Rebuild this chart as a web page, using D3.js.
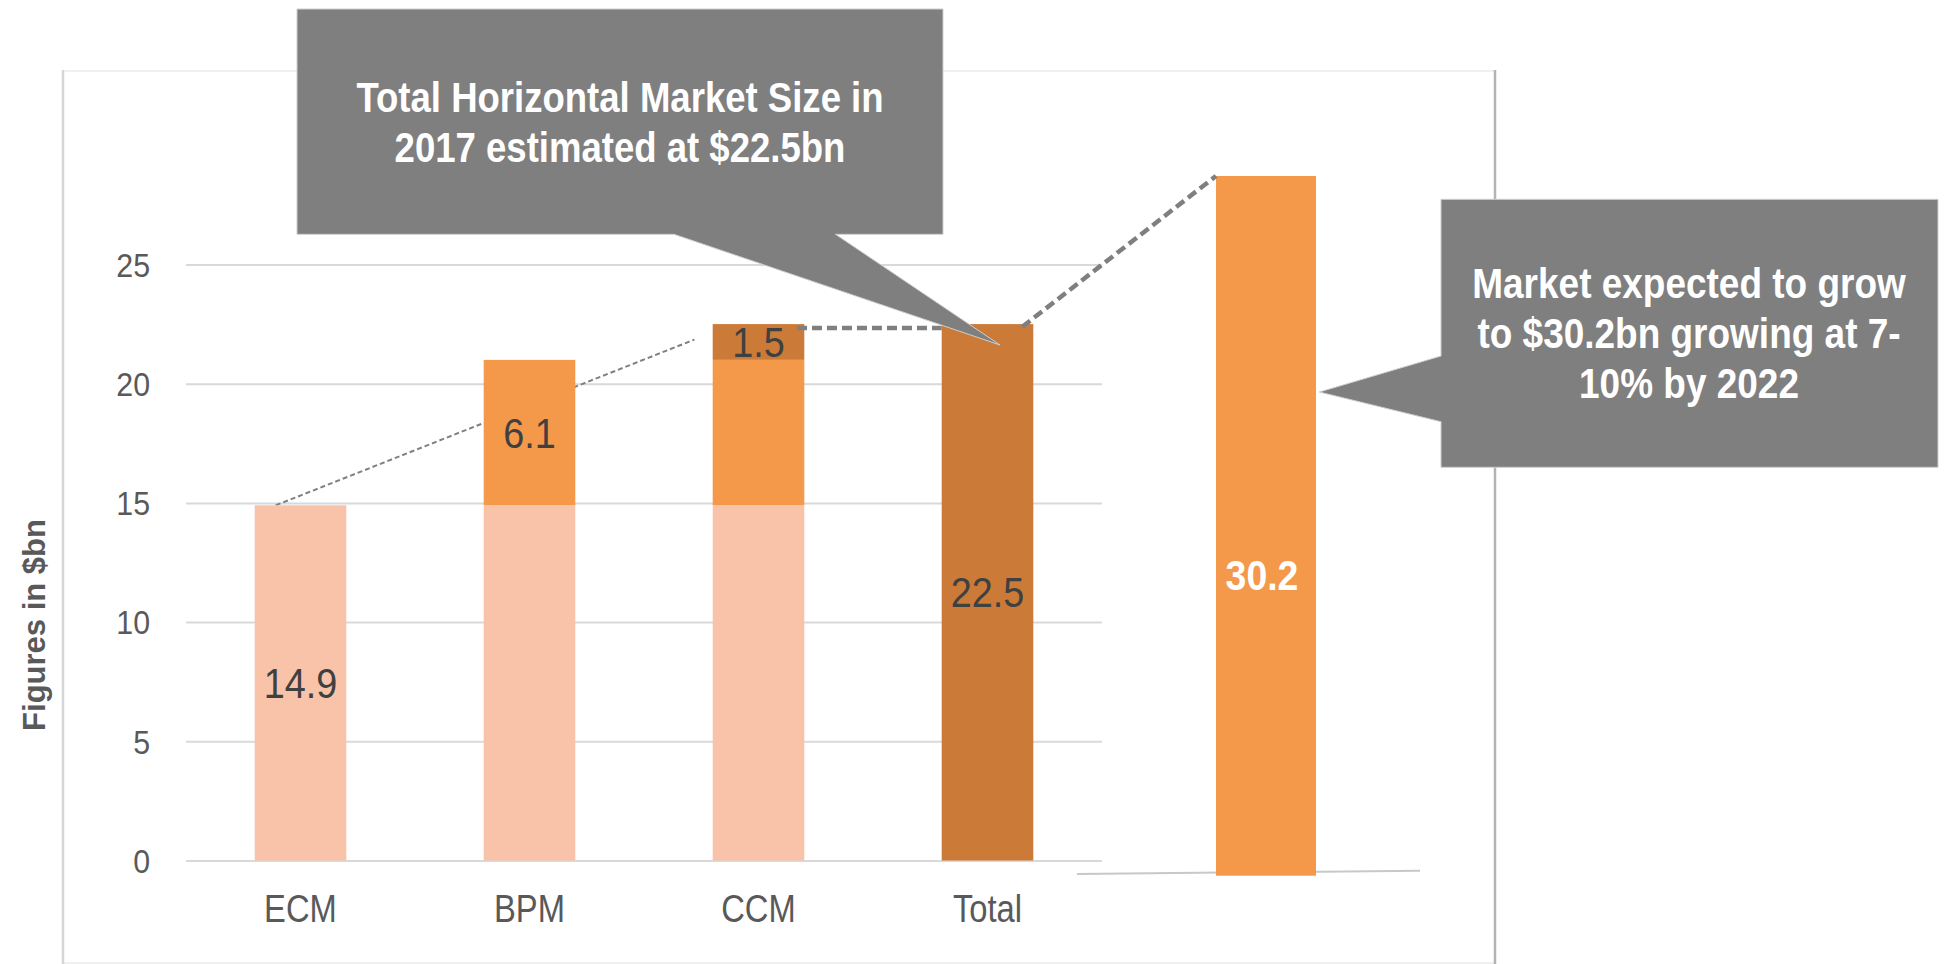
<!DOCTYPE html>
<html>
<head>
<meta charset="utf-8">
<script src="https://cdn.jsdelivr.net/npm/d3@7"></script>
<style>
  html, body { margin: 0; padding: 0; background: #ffffff; }
  svg { display: block; }
</style>
</head>
<body>
<svg id="chart" width="1948" height="964"></svg>
<script>
// ---------- data ----------
const categories = ["ECM", "BPM", "CCM", "Total"];
const ecmValues   = [14.9, 14.9, 14.9, 0];
const bpmValues   = [0, 6.1, 6.1, 0];
const ccmValues   = [0, 0, 1.5, 0];
const totalValues = [0, 0, 0, 22.5];
const seriesKeys  = ["ecm", "bpm", "ccm", "total"];
const seriesColors = ["#F8C3A8", "#F4994A", "#CC7A38", "#CC7A38"];
const yTicks = [0, 5, 10, 15, 20, 25];
const forecastCategories = ["2022"];
const forecastValues = [30.2];
const axisTitle = "Figures in $bn";
const callout1Lines = ["Total Horizontal Market Size in", "2017 estimated at $22.5bn"];
const callout2Lines = ["Market expected to grow", "to $30.2bn growing at 7-", "10% by 2022"];

// ---------- setup ----------
const svg = d3.select("#chart");
const FONT = "'Liberation Sans', Arial, sans-serif";

// condensed text helper (horizontal squeeze of a regular sans)
function ctext(parent, x, y, str, opts) {
  const sx = opts.sx || 0.85;
  return parent.append("text")
    .attr("transform", `translate(${x},${y}) scale(${sx},1)`)
    .attr("text-anchor", opts.anchor || "middle")
    .attr("dy", opts.dy || null)
    .attr("fill", opts.fill || "#404040")
    .style("font-family", FONT)
    .style("font-weight", opts.weight || "normal")
    .style("font-size", opts.size + "px")
    .text(str);
}

const table = categories.map((c, i) => ({
  cat: c, ecm: ecmValues[i], bpm: bpmValues[i], ccm: ccmValues[i], total: totalValues[i]
}));
const stacked = d3.stack().keys(seriesKeys)(table);

const x = d3.scaleBand().domain(categories).range([186, 1102]).paddingInner(0.6).paddingOuter(0.3);
const y = d3.scaleLinear().domain([0, 25]).range([860.5, 264.5]);
const bw = x.bandwidth();

const x2 = d3.scaleBand().domain(forecastCategories).range([1166, 1366]).paddingInner(0).paddingOuter(0.5);
const y2 = d3.scaleLinear().domain([0, 30.2]).range([875.7, 176]);

// ---------- frame ----------
const frame = svg.append("g");
frame.append("line").attr("x1", 63).attr("x2", 1495).attr("y1", 71).attr("y2", 71)
  .attr("stroke", "#f0f0f0").attr("stroke-width", 2);
frame.append("line").attr("x1", 63).attr("x2", 1495).attr("y1", 963).attr("y2", 963)
  .attr("stroke", "#f0f0f0").attr("stroke-width", 2);
frame.append("line").attr("x1", 63).attr("x2", 63).attr("y1", 70).attr("y2", 964)
  .attr("stroke", "#d6d6d6").attr("stroke-width", 2.5);
frame.append("line").attr("x1", 1495).attr("x2", 1495).attr("y1", 70).attr("y2", 964)
  .attr("stroke", "#b3b3b3").attr("stroke-width", 2.5);

// ---------- gridlines + y axis ----------
const TSX = 0.92;
const yAxis = d3.axisLeft(y).tickValues(yTicks).tickSize(-(1102 - 186)).tickFormat(d3.format("d")).tickPadding(36);
const gy = svg.append("g").attr("transform", "translate(186,0)").call(yAxis);
gy.select(".domain").remove();
gy.selectAll(".tick line").attr("stroke", "#d9d9d9").attr("stroke-width", 2);
gy.selectAll(".tick text").attr("fill", "#595959").style("font-family", FONT)
  .style("font-size", "33px").attr("dy", "0.36em")
  .attr("x", -36 / TSX).attr("transform", `scale(${TSX},1)`);

// ---------- x axis labels ----------
const xAxis = d3.axisBottom(x).tickSize(0).tickPadding(0);
const gx = svg.append("g").attr("transform", "translate(0,922)").call(xAxis);
gx.select(".domain").remove();
gx.selectAll(".tick text").attr("fill", "#595959").style("font-family", FONT)
  .style("font-size", "39px").attr("dy", "0").attr("y", 0)
  .attr("transform", "scale(0.84,1)");

// axis title
svg.append("text")
  .attr("transform", "translate(45,625) rotate(-90)")
  .attr("text-anchor", "middle")
  .attr("fill", "#595959")
  .style("font-family", FONT)
  .style("font-weight", "bold")
  .style("font-size", "31px")
  .text(axisTitle);

// ---------- thin dashed trend line (behind bars) ----------
svg.append("line")
  .attr("x1", x("ECM") + bw * 0.23).attr("y1", y(ecmValues[0]))
  .attr("x2", x("CCM") - bw * 0.2).attr("y2", y(21.85))
  .attr("stroke", "#808080").attr("stroke-width", 2).attr("stroke-dasharray", "5,3");

// ---------- bars ----------
const barsG = svg.append("g");
stacked.forEach((s, si) => {
  barsG.selectAll(null).data(s.filter(d => d[1] - d[0] > 0)).join("rect")
    .attr("x", d => x(d.data.cat))
    .attr("y", d => y(d[1]))
    .attr("width", bw)
    .attr("height", d => y(d[0]) - y(d[1]))
    .attr("fill", seriesColors[si]);
});

// data labels: each series labelled on its own category
const labelsG = svg.append("g");
stacked.forEach((s, si) => {
  const d = s[si];
  ctext(labelsG, x(d.data.cat) + bw / 2, y((d[0] + d[1]) / 2), d3.format(".1f")(d[1] - d[0]),
    { size: 42, sx: 0.9, dy: "0.36em", fill: "#404040" });
});

// ---------- forecast bar ----------
svg.append("line")
  .attr("x1", 1077).attr("y1", y2(0) - 1.7)
  .attr("x2", 1420).attr("y2", y2(0) - 5)
  .attr("stroke", "#c8c8c8").attr("stroke-width", 2);
svg.selectAll(".fbar").data(forecastValues).join("rect").attr("class", "fbar")
  .attr("x", (d, i) => x2(forecastCategories[i]))
  .attr("y", d => y2(d))
  .attr("width", x2.bandwidth())
  .attr("height", d => y2(0) - y2(d))
  .attr("fill", "#F4994A");
forecastValues.forEach((v, i) => {
  ctext(svg, x2(forecastCategories[i]) + x2.bandwidth() / 2 - 4, y2(13), d3.format(".1f")(v),
    { size: 43, sx: 0.87, dy: "0.36em", fill: "#ffffff", weight: "bold" });
});

// ---------- bold dashed connectors ----------
svg.append("line")
  .attr("x1", x("CCM") + bw * 0.92).attr("y1", y(22.5) + 4)
  .attr("x2", x("Total")).attr("y2", y(22.5) + 4)
  .attr("stroke", "#7f7f7f").attr("stroke-width", 4.5).attr("stroke-dasharray", "10,5");
svg.append("line")
  .attr("x1", x("Total") + bw * 0.88).attr("y1", y(22.5) + 2.7)
  .attr("x2", x2("2022")).attr("y2", y2(forecastValues[0]))
  .attr("stroke", "#7f7f7f").attr("stroke-width", 4.5).attr("stroke-dasharray", "10,5");

// ---------- callouts ----------
const c1 = [[297, 9], [943, 9], [943, 234.3], [835.5, 234.3], [1000, 345], [674, 234.3], [297, 234.3]];
svg.append("path").attr("d", d3.line()(c1) + "Z")
  .attr("fill", "#7f7f7f").attr("stroke", "#cfcfcf").attr("stroke-width", 1);
callout1Lines.forEach((t, i) => {
  ctext(svg, 620, 112 + i * 50, t, { size: 43, sx: 0.85, fill: "#ffffff", weight: "bold" });
});

const c2 = [[1441, 199.3], [1938, 199.3], [1938, 467.3], [1441, 467.3], [1441, 421.7], [1319.3, 392], [1441, 356]];
svg.append("path").attr("d", d3.line()(c2) + "Z")
  .attr("fill", "#7f7f7f").attr("stroke", "#cfcfcf").attr("stroke-width", 1);
callout2Lines.forEach((t, i) => {
  ctext(svg, 1689, 298 + i * 50, t, { size: 43, sx: 0.86, fill: "#ffffff", weight: "bold" });
});
</script>
</body>
</html>
